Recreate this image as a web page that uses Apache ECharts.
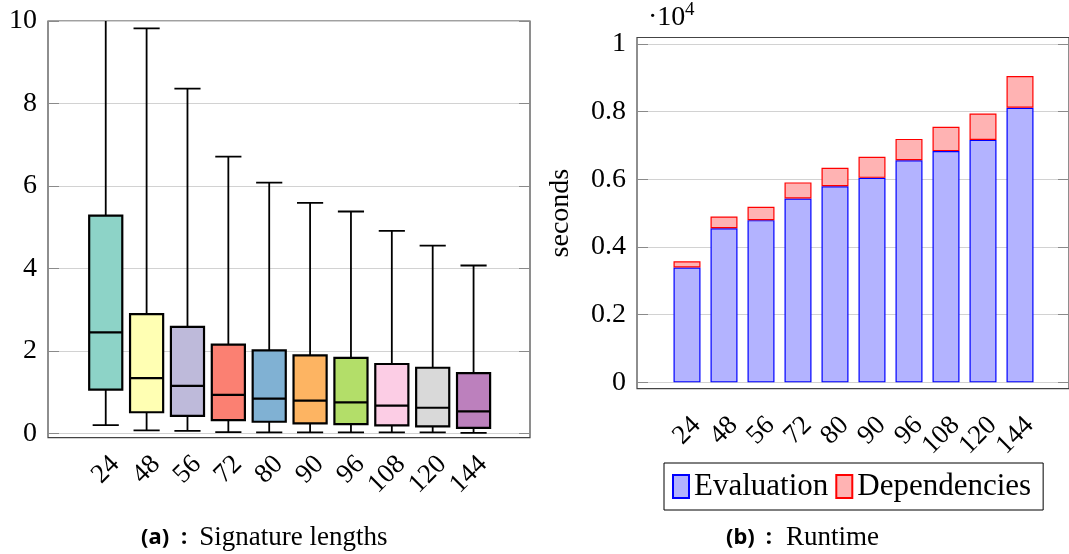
<!DOCTYPE html>
<html>
<head>
<meta charset="utf-8">
<script src="https://cdn.jsdelivr.net/npm/echarts@6/dist/echarts.min.js"></script>
<style>
  html, body { margin: 0; padding: 0; background: #fff; }
  #chart { width: 1069px; height: 554px; }
</style>
</head>
<body>
<div id="chart"></div>
<script>
// ---------- data ----------
const categories = ['24', '48', '56', '72', '80', '90', '96', '108', '120', '144'];
// box plot (a): signature lengths
const boxMin    = [0.20, 0.07, 0.06, 0.03, 0.02, 0.02, 0.02, 0.02, 0.02, 0.01];
const boxQ1     = [1.06, 0.51, 0.42, 0.32, 0.28, 0.24, 0.22, 0.19, 0.17, 0.13];
const boxMedian = [2.45, 1.34, 1.15, 0.93, 0.84, 0.79, 0.75, 0.67, 0.62, 0.53];
const boxQ3     = [5.28, 2.89, 2.58, 2.15, 2.01, 1.89, 1.83, 1.68, 1.59, 1.46];
const boxMax    = [11.8, 9.82, 8.36, 6.71, 6.08, 5.59, 5.38, 4.91, 4.55, 4.07];
const leftTicks = [0, 2, 4, 6, 8, 10];
// runtime (b): seconds
const evaluation   = [3390, 4550, 4790, 5430, 5790, 6040, 6560, 6830, 7160, 8110];
const dependencies = [185, 350, 395, 475, 550, 620, 630, 720, 780, 940];
const rightTicks = [0, 2000, 4000, 6000, 8000, 10000];

// ---------- styles ----------
const boxColors = ['#8dd3c7', '#ffffb3', '#bebada', '#fb8072', '#80b1d3',
                   '#fdb462', '#b3de69', '#fccde5', '#d9d9d9', '#bc80bd'];
const SERIF = '"Liberation Serif", "Times New Roman", serif';
const gridColor = '#d2d2d2', tickColor = '#8a8a8a', frameColor = '#444';

const boxData = categories.map((c, i) => [i, boxMin[i], boxQ1[i], boxMedian[i], boxQ3[i], boxMax[i]]);

function renderBox(params, api) {
  const x = api.value(0);
  const band = api.size([1, 0])[0];
  const bw = band * 0.81, cw = band * 0.64;
  const pMin = api.coord([x, api.value(1)]);
  const pQ1 = api.coord([x, api.value(2)]);
  const pMed = api.coord([x, api.value(3)]);
  const pQ3 = api.coord([x, api.value(4)]);
  const pMax = api.coord([x, api.value(5)]);
  const cx = pMin[0];
  const ls = { stroke: '#000', lineWidth: 1.8 };
  return {
    type: 'group',
    children: [
      { type: 'line', shape: { x1: cx, y1: pQ3[1], x2: cx, y2: pMax[1] }, style: ls },
      { type: 'line', shape: { x1: cx, y1: pQ1[1], x2: cx, y2: pMin[1] }, style: ls },
      { type: 'line', shape: { x1: cx - cw / 2, y1: pMax[1], x2: cx + cw / 2, y2: pMax[1] }, style: ls },
      { type: 'line', shape: { x1: cx - cw / 2, y1: pMin[1], x2: cx + cw / 2, y2: pMin[1] }, style: ls },
      { type: 'rect', shape: { x: cx - bw / 2, y: pQ3[1], width: bw, height: pQ1[1] - pQ3[1] },
        style: { fill: boxColors[params.dataIndex], stroke: '#000', lineWidth: 2.2 } },
      { type: 'line', shape: { x1: cx - bw / 2, y1: pMed[1], x2: cx + bw / 2, y2: pMed[1] },
        style: { stroke: '#000', lineWidth: 2.2 } }
    ]
  };
}

const L = { top: 21, height: 416.7 };
const R = { top: 37.5, height: 351.2 };
const leftMin = -0.107, leftMax = 10;
const rightMin = -188, rightMax = 10185;

const yLabelStyle = { fontFamily: SERIF, fontSize: 28, color: '#000', margin: 11 };
const xLabelStyle = { fontFamily: SERIF, fontSize: 27, color: '#000', rotate: 45, verticalAlign: 'top' };

const option = {
  animation: false,
  backgroundColor: '#fff',
  textStyle: { fontFamily: SERIF },
  grid: [
    { left: 48, top: L.top, width: 482, height: L.height, show: true, borderColor: frameColor, borderWidth: 1.2, backgroundColor: 'transparent' },
    { left: 85.3, top: L.top, width: 408.7, height: L.height },
    { left: 637, top: R.top, width: 433, height: R.height, show: true, borderColor: frameColor, borderWidth: 1.2, backgroundColor: 'transparent' },
    { left: 668.5, top: R.top, width: 370, height: R.height }
  ],
  xAxis: [
    { gridIndex: 0, type: 'value', show: false },
    { gridIndex: 1, type: 'category', data: categories, position: 'bottom',
      axisLine: { show: false },
      axisTick: { inside: true, alignWithLabel: true, length: 11, lineStyle: { color: tickColor } },
      axisLabel: Object.assign({ margin: 13, interval: 0 }, xLabelStyle) },
    { gridIndex: 1, type: 'category', data: categories, position: 'top',
      axisLine: { show: false }, axisLabel: { show: false },
      axisTick: { inside: true, alignWithLabel: true, length: 11, lineStyle: { color: tickColor } } },
    { gridIndex: 2, type: 'value', show: false },
    { gridIndex: 3, type: 'category', data: categories, position: 'bottom',
      axisLine: { show: false },
      axisTick: { inside: true, alignWithLabel: true, length: 11, lineStyle: { color: tickColor } },
      axisLabel: Object.assign({ margin: 23, interval: 0 }, xLabelStyle) },
    { gridIndex: 3, type: 'category', data: categories, position: 'top',
      axisLine: { show: false }, axisLabel: { show: false },
      axisTick: { inside: true, alignWithLabel: true, length: 11, lineStyle: { color: tickColor } } }
  ],
  yAxis: [
    { gridIndex: 0, type: 'value', min: leftMin, max: leftMax, position: 'left',
      axisLine: { show: false },
      axisTick: { inside: true, length: 11, lineStyle: { color: tickColor }, customValues: leftTicks },
      axisLabel: Object.assign({ customValues: leftTicks }, yLabelStyle),
      splitLine: { show: true, lineStyle: { color: gridColor, width: 1 } } },
    { gridIndex: 0, type: 'value', min: leftMin, max: leftMax, position: 'right',
      axisLine: { show: false }, axisLabel: { show: false }, splitLine: { show: false },
      axisTick: { inside: true, length: 11, lineStyle: { color: tickColor }, customValues: leftTicks } },
    { gridIndex: 1, type: 'value', min: leftMin, max: leftMax, show: false },
    { gridIndex: 2, type: 'value', min: rightMin, max: rightMax, position: 'left',
      name: 'seconds', nameLocation: 'middle', nameGap: 62,
      nameTextStyle: { fontFamily: SERIF, fontSize: 28, color: '#000' },
      axisLine: { show: false },
      axisTick: { inside: true, length: 11, lineStyle: { color: tickColor }, customValues: rightTicks },
      axisLabel: Object.assign({ customValues: rightTicks, formatter: v => String(+(v / 10000).toFixed(1)) }, yLabelStyle),
      splitLine: { show: true, lineStyle: { color: gridColor, width: 1 } } },
    { gridIndex: 2, type: 'value', min: rightMin, max: rightMax, position: 'right',
      axisLine: { show: false }, axisLabel: { show: false }, splitLine: { show: false },
      axisTick: { inside: true, length: 11, lineStyle: { color: tickColor }, customValues: rightTicks } },
    { gridIndex: 3, type: 'value', min: rightMin, max: rightMax, show: false }
  ],
  legend: {
    data: ['Evaluation', 'Dependencies'],
    left: 664, top: 463,
    orient: 'horizontal',
    icon: 'rect', itemWidth: 16, itemHeight: 23, itemGap: 7,
    padding: [8, 12, 8, 8],
    borderColor: '#000', borderWidth: 1,
    textStyle: { fontFamily: SERIF, fontSize: 31, color: '#000' }
  },
  series: [
    { type: 'custom', name: 'Signature lengths', xAxisIndex: 1, yAxisIndex: 2,
      clip: true, renderItem: renderBox, encode: { x: 0, y: [1, 2, 3, 4, 5] }, data: boxData },
    { type: 'bar', name: 'Evaluation', xAxisIndex: 4, yAxisIndex: 5, stack: 'rt', barWidth: 27,
      itemStyle: { color: '#b3b3ff', borderColor: '#0000ff', borderWidth: 1.2 }, data: evaluation },
    { type: 'bar', name: 'Dependencies', xAxisIndex: 4, yAxisIndex: 5, stack: 'rt', barWidth: 27,
      itemStyle: { color: '#ffb3b3', borderColor: '#ff0000', borderWidth: 1.2 }, data: dependencies }
  ],
  graphic: [
    { type: 'text', left: 648, top: 4, style: { text: '·10', font: '28px "Liberation Serif"', fill: '#000' } },
    { type: 'text', left: 685, top: 1, style: { text: '4', font: '19px "Liberation Serif"', fill: '#000' } },
    { type: 'text', left: 141, top: 524, style: {
        text: '{b|(a)}{c|:}{t|Signature lengths}',
        rich: { b: { fontFamily: 'Noto Sans', fontWeight: 'bold', fontSize: 22, fill: '#000' },
                c: { fontFamily: 'Noto Sans', fontWeight: 'bold', fontSize: 22, fill: '#000', padding: [0, 0, 0, 12] },
                t: { fontFamily: SERIF, fontSize: 27, fill: '#000', padding: [0, 0, 0, 12] } } } },
    { type: 'text', left: 726, top: 524, style: {
        text: '{b|(b)}{c|:}{t|Runtime}',
        rich: { b: { fontFamily: 'Noto Sans', fontWeight: 'bold', fontSize: 22, fill: '#000' },
                c: { fontFamily: 'Noto Sans', fontWeight: 'bold', fontSize: 22, fill: '#000', padding: [0, 0, 0, 11] },
                t: { fontFamily: SERIF, fontSize: 27, fill: '#000', padding: [0, 0, 0, 14] } } } }
  ]
};

const chart = echarts.init(document.getElementById('chart'), null, { renderer: 'canvas' });
chart.setOption(option);
</script>
</body>
</html>
